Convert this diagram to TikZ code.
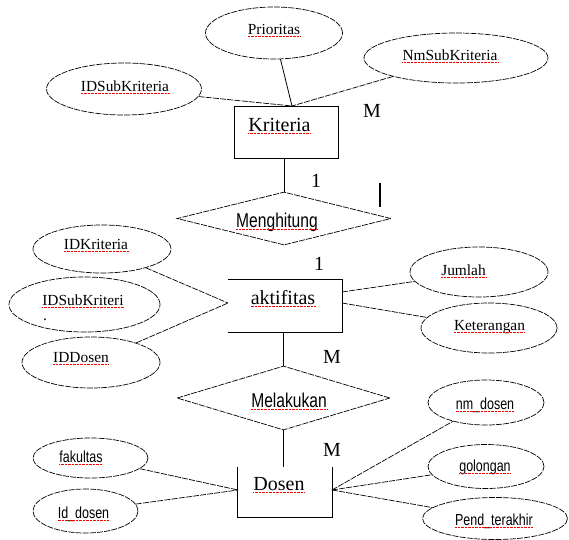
\documentclass[tikz,border=0pt]{standalone}
\usepackage{fontspec}
\setmainfont{Liberation Serif}
\newfontfamily\narrowsf[FakeStretch=0.78]{Liberation Sans}
\usetikzlibrary{shapes.geometric}
\tikzset{
    attr/.style={ellipse,draw,line width=0.7pt,dash pattern=on 6pt off 1.2pt,inner sep=0pt},
    rel/.style={diamond,draw,line width=0.7pt,dash pattern=on 6pt off 1.2pt,aspect=4,inner sep=0pt},
    entity/.style={rectangle,inner sep=0pt},
    link/.style={line width=0.7pt,dash pattern=on 6pt off 1.2pt},
    stem/.style={line width=0.8pt},
    % red spell-check mark under the words
    spell/.style={append after command={([yshift=-2.6pt]\tikzlastnode.base west) edge[draw=red,line width=0.5pt,dash pattern=on 0.9pt off 0.5pt] ([yshift=-2.6pt]\tikzlastnode.base east)}},
    plaintext/.style={font=\fontsize{15.4}{17}\selectfont,anchor=base,inner sep=0pt},
    entname/.style={font=\fontsize{20}{22}\selectfont,anchor=base,inner sep=0pt,spell},
    attrname/.style={plaintext,spell},
    attrsf/.style={font=\narrowsf\fontsize{16}{18}\selectfont,anchor=base,inner sep=0pt,spell},
    relname/.style={font=\narrowsf\fontsize{20}{22}\selectfont,anchor=base,inner sep=0pt,spell},
    card/.style={font=\fontsize{20}{22}\selectfont,anchor=base,inner sep=0pt}
}
\begin{document}
\begin{tikzpicture}[x=1pt,y=-1pt]
    \useasboundingbox (0,0) rectangle (569,539);
    % Kriteria and its attributes
    \node[entity,draw,line width=0.8pt,minimum width=104pt,minimum height=52pt] (kriteria) at (286,132) {};
    \node[entname] (kriteriaT) at (279.5,131) {Kriteria};
    \node[attr,minimum width=137pt,minimum height=52pt] (prio) at (274,33) {};
    \node[attrname] (prioT) at (274,34) {Prioritas};
    \node[attr,minimum width=184pt,minimum height=50pt] (nmsub) at (456,58) {};
    \node[attrname] (nmsubT) at (450,60) {NmSubKriteria};
    \node[attr,minimum width=155pt,minimum height=52pt] (idsub) at (124,89) {};
    \node[attrname] (idsubT) at (125,91) {IDSubKriteria};
    \coordinate (kriJ) at (292,106);
    \draw[stem] (prio) -- (kriJ);
    \draw[link] (idsub) -- (kriJ);
    \draw[link] (nmsub) -- (kriJ);
    \node[card] (mKri) at (372,117) {M};
    % Menghitung
    \node[rel,minimum width=214pt,minimum height=53pt] (menghitung) at (284,218.5) {};
    \node[relname] (menghitungT) at (277,227) {Menghitung};
    \draw[stem] (menghitung.north |- kriteria.south) -- (menghitung.north);
    \node[card] (oneKri) at (316,187) {1};
    \draw[line width=1.6pt] (380,183) -- (380,207);
    \node[card] (oneAkt) at (319,270) {1};
    % aktifitas and its attributes
    \node[entity,minimum width=114pt,minimum height=52pt] (aktifitas) at (285,306) {};
    \draw[stem] (aktifitas.north west) -- (aktifitas.north east) -- (aktifitas.south east) -- (aktifitas.south west);
    \node[entname] (aktifitasT) at (283,304) {aktifitas};
    \node[attr,minimum width=138pt,minimum height=48pt] (idkri) at (102,249) {};
    \node[attrname] (idkriT) at (96,249) {IDKriteria};
    \node[attr,minimum width=151pt,minimum height=55pt] (idsubkri) at (84.5,304.5) {};
    \node[attrname] (idsubkriT) at (83,305) {IDSubKriteri};
    \node[plaintext] (idsubkriDot) at (45,320) {.};
    \node[attr,minimum width=138pt,minimum height=51pt] (iddosen) at (91,362.5) {};
    \node[attrname] (iddosenT) at (81,362) {IDDosen};
    \coordinate (aktJ) at (228,303);
    \draw[link] (idkri) -- (aktJ);
    \draw[link] (iddosen) -- (aktJ);
    \node[attr,minimum width=138pt,minimum height=50pt] (jumlah) at (479,272) {};
    \node[attrname] (jumlahT) at (463.5,275) {Jumlah};
    \node[attr,minimum width=136pt,minimum height=50pt] (ket) at (489,328) {};
    \node[attrname] (ketT) at (489.5,330) {Keterangan};
    \coordinate (aktR1) at (342,292);
    \coordinate (aktR2) at (342,303);
    \draw[link] (aktR1) -- (jumlah);
    \draw[link] (aktR2) -- (ket);
    \node[card] (mAkt) at (332,363) {M};
    % Melakukan
    \node[rel,minimum width=213pt,minimum height=64pt] (melakukan) at (283.5,398) {};
    \node[relname] (melakukanT) at (289,407) {Melakukan};
    \draw[stem] (melakukan.north |- aktifitas.south) -- (melakukan.north);
    % Dosen and its attributes
    \node[entity,minimum width=94pt,minimum height=50pt] (dosen) at (285,492) {};
    \draw[stem] (dosen.north west) -- (dosen.south west) -- (dosen.south east) -- (dosen.north east);
    \node[entname] (dosenT) at (279,490) {Dosen};
    \draw[stem] (melakukan.south) -- (melakukan.south |- dosen.north);
    \node[card] (mDos) at (332,456) {M};
    \node[attr,minimum width=115pt,minimum height=40pt] (fakultas) at (90.5,458) {};
    \node[attrsf] (fakultasT) at (81,462) {fakultas};
    \node[attr,minimum width=105pt,minimum height=44pt] (iddos) at (85.5,511) {};
    \node[attrsf] (iddosT) at (83.5,518) {Id\_dosen};
    \coordinate (dosL) at (238,490);
    \draw[link] (fakultas) -- (dosL);
    \draw[link] (iddos) -- (dosL);
    \node[attr,minimum width=116pt,minimum height=45pt] (nmdosen) at (486,402.5) {};
    \node[attrsf] (nmdosenT) at (485,409) {nm\_dosen};
    \node[attr,minimum width=116pt,minimum height=44pt] (golongan) at (486,466.5) {};
    \node[attrsf] (golonganT) at (485,471) {golongan};
    \node[attr,minimum width=145pt,minimum height=42pt] (pend) at (495,518.5) {};
    \node[attrsf] (pendT) at (494,525) {Pend\_terakhir};
    \coordinate (dosR) at (332,490);
    \draw[link] (dosR) -- (nmdosen);
    \draw[link] (dosR) -- (golongan);
    \draw[link] (dosR) -- (pend);
\end{tikzpicture}
\end{document}
